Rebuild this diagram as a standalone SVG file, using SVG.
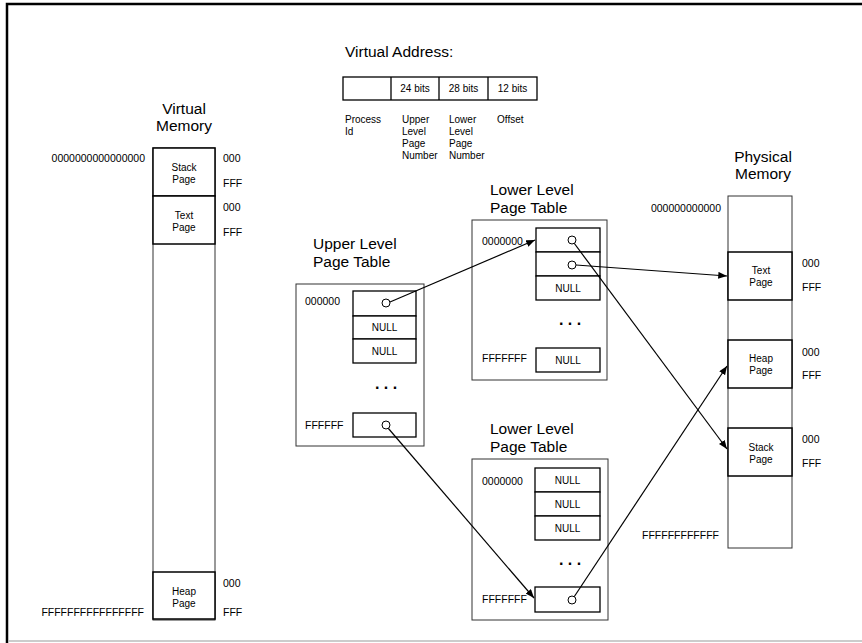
<svg xmlns="http://www.w3.org/2000/svg" width="862" height="643" viewBox="0 0 862 643">
<defs>
<marker id="ah" viewBox="0 0 10 8" refX="10" refY="4" markerWidth="9" markerHeight="7" markerUnits="userSpaceOnUse" orient="auto">
<path d="M0,0 L10,4 L0,8 z" fill="#000"/>
</marker>
<style>
text{font-family:"Liberation Sans",Arial,sans-serif;fill:#000}
.t{font-size:15.5px}
.s{font-size:10.5px}
.b{font-size:10px}
.d{font-size:16px;font-weight:bold}
.c{text-anchor:middle}
.r{text-anchor:end}
.box{fill:#fff;stroke:#333;stroke-width:1}
.cell{fill:#fff;stroke:#000;stroke-width:1.3}
.pg{fill:#fff;stroke:#000;stroke-width:1.5}
.dot{fill:#fff;stroke:#000;stroke-width:1}
.ln{stroke:#000;stroke-width:1.2;fill:none;marker-end:url(#ah)}
</style>
</defs>
<rect width="862" height="643" fill="#fff"/>
<path d="M7,643 V4 H862" fill="none" stroke="#000" stroke-width="2.5"/>
<line x1="8" y1="641" x2="862" y2="641" stroke="#bbb" stroke-width="1.5"/>

<g id="virtual-address">
<text class="t" x="345" y="57">Virtual Address:</text>
<rect class="cell" x="343" y="77" width="194" height="23"/>
<line x1="391" y1="77" x2="391" y2="100" stroke="#000" stroke-width="1.3"/>
<line x1="439" y1="77" x2="439" y2="100" stroke="#000" stroke-width="1.3"/>
<line x1="488" y1="77" x2="488" y2="100" stroke="#000" stroke-width="1.3"/>
<text class="b c" x="415" y="92">24 bits</text>
<text class="b c" x="463.5" y="92">28 bits</text>
<text class="b c" x="512.5" y="92">12 bits</text>
<text class="b" x="345" y="123">Process</text>
<text class="b" x="345" y="135">Id</text>
<text class="b" x="402" y="123">Upper</text>
<text class="b" x="402" y="135">Level</text>
<text class="b" x="402" y="147">Page</text>
<text class="b" x="402" y="159">Number</text>
<text class="b" x="449" y="123">Lower</text>
<text class="b" x="449" y="135">Level</text>
<text class="b" x="449" y="147">Page</text>
<text class="b" x="449" y="159">Number</text>
<text class="b" x="497" y="123">Offset</text>
</g>

<g id="virtual-memory">
<text class="t c" x="184" y="114">Virtual</text>
<text class="t c" x="184" y="131">Memory</text>
<rect class="box" x="153" y="148" width="62" height="472"/>
<rect class="pg" x="153" y="148" width="62" height="48"/>
<rect class="pg" x="153" y="196" width="62" height="48"/>
<rect class="pg" x="153" y="572" width="62" height="47"/>
<text class="b c" x="184" y="171">Stack</text>
<text class="b c" x="184" y="183">Page</text>
<text class="b c" x="184" y="219">Text</text>
<text class="b c" x="184" y="231">Page</text>
<text class="b c" x="184" y="595">Heap</text>
<text class="b c" x="184" y="607">Page</text>
<text class="s r" x="145" y="162">0000000000000000</text>
<text class="s r" x="144" y="616">FFFFFFFFFFFFFFFF</text>
<text class="s" x="223" y="162">000</text>
<text class="s" x="223" y="187">FFF</text>
<text class="s" x="223" y="211">000</text>
<text class="s" x="223" y="236">FFF</text>
<text class="s" x="223" y="587">000</text>
<text class="s" x="223" y="616">FFF</text>
</g>

<g id="upper-table">
<text class="t" x="313" y="249">Upper Level</text>
<text class="t" x="313" y="267">Page Table</text>
<rect class="box" x="296" y="284" width="128" height="162"/>
<rect class="cell" x="353" y="291" width="63" height="25"/>
<rect class="cell" x="353" y="316" width="63" height="23"/>
<rect class="cell" x="353" y="339" width="63" height="24"/>
<rect class="cell" x="353" y="413" width="63" height="24"/>
<text class="s" x="305" y="305">000000</text>
<text class="s" x="305" y="429">FFFFFF</text>
<text class="b c" x="384.5" y="331">NULL</text>
<text class="b c" x="384.5" y="355">NULL</text>
<text class="d c" x="386" y="389">. . .</text>
</g>

<g id="lower-table-1">
<text class="t" x="490" y="195">Lower Level</text>
<text class="t" x="490" y="213">Page Table</text>
<rect class="box" x="472" y="220" width="135" height="160"/>
<rect class="cell" x="536" y="228" width="64" height="24"/>
<rect class="cell" x="536" y="252" width="64" height="24"/>
<rect class="cell" x="536" y="276" width="64" height="24"/>
<rect class="cell" x="536" y="348" width="64" height="24"/>
<text class="s" x="482" y="245">0000000</text>
<text class="s" x="482" y="362">FFFFFFF</text>
<text class="b c" x="568" y="292">NULL</text>
<text class="b c" x="568" y="364">NULL</text>
<text class="d c" x="570" y="325">. . .</text>
</g>

<g id="lower-table-2">
<text class="t" x="490" y="434">Lower Level</text>
<text class="t" x="490" y="452">Page Table</text>
<rect class="box" x="472" y="459" width="136" height="161"/>
<rect class="cell" x="535" y="468" width="65" height="24"/>
<rect class="cell" x="535" y="492" width="65" height="24"/>
<rect class="cell" x="535" y="516" width="65" height="24"/>
<rect class="cell" x="535" y="587" width="65" height="25"/>
<text class="s" x="482" y="485">0000000</text>
<text class="s" x="482" y="603">FFFFFFF</text>
<text class="b c" x="567.5" y="484">NULL</text>
<text class="b c" x="567.5" y="508">NULL</text>
<text class="b c" x="567.5" y="532">NULL</text>
<text class="d c" x="570" y="565">. . .</text>
</g>

<g id="physical-memory">
<text class="t c" x="763" y="162">Physical</text>
<text class="t c" x="763" y="179">Memory</text>
<rect class="box" x="728" y="196" width="64" height="352"/>
<rect class="pg" x="728" y="252" width="64" height="48"/>
<rect class="pg" x="728" y="340" width="64" height="48"/>
<rect class="pg" x="728" y="428" width="64" height="48"/>
<text class="b c" x="761" y="274">Text</text>
<text class="b c" x="761" y="286">Page</text>
<text class="b c" x="761" y="362">Heap</text>
<text class="b c" x="761" y="374">Page</text>
<text class="b c" x="761" y="451">Stack</text>
<text class="b c" x="761" y="463">Page</text>
<text class="s r" x="721" y="212">000000000000</text>
<text class="s r" x="719" y="539">FFFFFFFFFFFF</text>
<text class="s" x="802" y="267">000</text>
<text class="s" x="802" y="291">FFF</text>
<text class="s" x="802" y="356">000</text>
<text class="s" x="802" y="379">FFF</text>
<text class="s" x="802" y="443">000</text>
<text class="s" x="802" y="467">FFF</text>
</g>

<g id="connectors">
<line class="ln" x1="390" y1="302" x2="535" y2="240"/>
<line class="ln" x1="576" y1="265" x2="727" y2="276"/>
<line class="ln" x1="574" y1="243" x2="727" y2="449"/>
<line class="ln" x1="388" y1="428" x2="534" y2="598"/>
<line class="ln" x1="574" y1="597" x2="727" y2="366"/>
<circle class="dot" cx="386" cy="303" r="4"/>
<circle class="dot" cx="386" cy="425" r="4"/>
<circle class="dot" cx="572" cy="240" r="4"/>
<circle class="dot" cx="572" cy="265" r="4"/>
<circle class="dot" cx="572" cy="600" r="4"/>
</g>
</svg>
